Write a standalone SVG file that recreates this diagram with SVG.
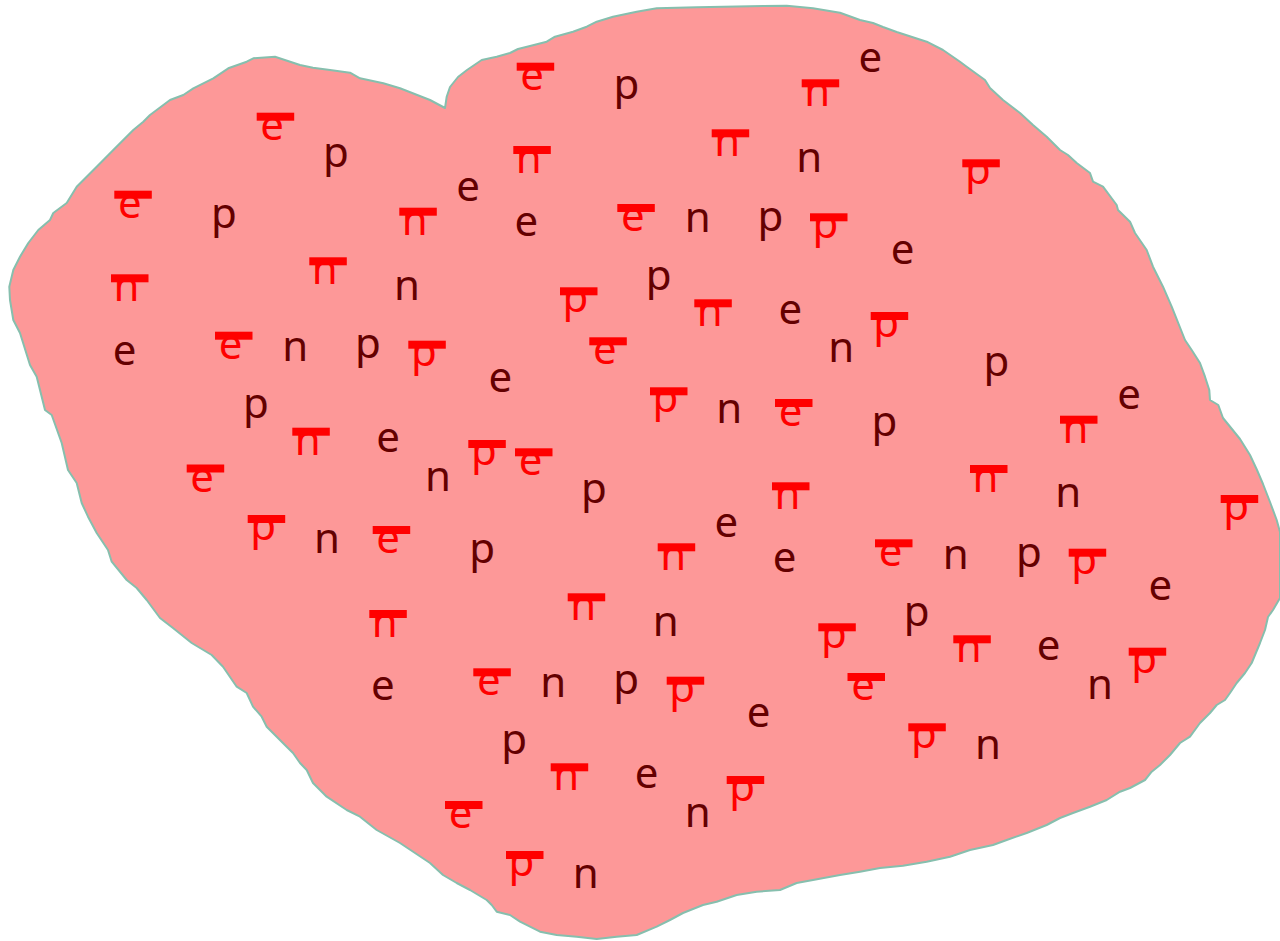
<svg xmlns="http://www.w3.org/2000/svg" width="1280" height="941" viewBox="0 0 1280 941">
<style>
.blob{fill:#fd9898;stroke:#86bfae;stroke-width:2;stroke-linejoin:round}
text{font-family:"Noto Sans","Open Sans","DejaVu Sans",sans-serif;font-size:42px;text-anchor:middle}
.d{fill:#640000}
.r text{fill:#ff0000}
.r rect{fill:#ff0000}
</style>
<rect width="1280" height="941" fill="#ffffff"/>
<path class="blob" d="M445,108 L446.7,96.7 L450,87 L458,77 L467,70 L481.7,60 L496.7,56.7 L510,53 L518,49 L530,46 L546.7,41.7 L555,36.7 L573,31.7 L586.7,26.7 L596.7,21.7 L613,16.7 L636.7,11.7 L656.7,8.3 L696.7,7.3 L763,6 L786.7,5.7 L813,8.3 L840,12.7 L860,20 L873,23 L883,27 L896.7,32 L926.7,41.7 L943,50 L960,61.7 L966.7,66.7 L985,80 L990,88 L1003,100 L1020,113 L1033,125 L1046.7,136.7 L1060,150 L1068,155 L1076.7,163 L1090,173 L1093,181.7 L1103,186.7 L1116.7,205 L1118,210 L1130,221.7 L1135,233 L1146.7,250 L1153,266.7 L1163,286.7 L1171.7,306.7 L1185,340 L1191.7,350 L1200,363 L1205,376.7 L1209.3,390 L1210,400 L1218.3,405 L1223,418 L1240,439 L1250,455 L1257,470 L1263,484 L1270,502 L1276.7,520 L1280,532 L1280,598 L1273,610 L1268,617 L1265,630 L1260,643 L1251.7,663 L1245,673 L1236.7,683 L1230,693 L1225,700 L1216.7,705 L1210,713 L1200,723 L1190,736.7 L1180,743 L1170,755 L1160,765 L1151.7,771.7 L1145,780 L1130,788 L1120,791.7 L1106.7,800 L1090,806.7 L1073,813 L1060,818 L1046.7,825 L1026.7,833 L1006.7,840 L993,845 L970,850 L950,856.7 L926.7,861.7 L903,865.7 L880,868 L860,871.7 L840,875 L813,880 L796.7,883 L780,890 L756.7,891.7 L736.7,895 L716.7,901.7 L703,905 L683,913 L670,920 L656.7,926.7 L636.7,935 L616.7,936.7 L596.7,939 L576.7,936.7 L556.7,935 L540,931.7 L520,921.7 L510,915 L496.7,911.7 L491.7,905 L486.7,900 L470,890 L456.7,883 L443,875 L430,863 L400,843 L376.7,830 L360,816.7 L346.7,810 L326.7,796.7 L313,783 L306.7,770 L300,763 L293,753 L286.7,746.7 L276.7,736.7 L266.7,726.7 L261.7,716.7 L253,706.7 L246.7,693 L236.7,686.7 L223,666.7 L211.7,655 L191.7,643 L173,628 L160,618 L146.7,600 L136.7,588 L126.7,580 L111.7,561.7 L108,550 L96.7,533 L88,516.7 L81.7,503 L76.7,483 L68,470 L61.7,443 L51.7,415 L45,410 L36.7,376.7 L30,365 L20,333 L13.3,320 L10,300 L9.3,286.7 L13.3,270 L20,256.7 L28.3,243 L38.3,230 L50,220 L53.3,213 L66.7,203 L76.7,186.7 L96.7,166.7 L113.3,150 L133.3,130 L143.3,121.7 L150,115 L170,100 L183.3,95 L193.3,88.3 L213.3,78.3 L228.3,68.3 L246.7,61.7 L253.3,58.3 L275,56.7 L300,65 L313,67.7 L330,70 L350,72.7 L360,78.3 L383.3,83.3 L400,88.3 L430,100 Z"/>
<g id="plain-letters" class="d">
<text x="335.8" y="167">p</text>
<text x="224" y="228">p</text>
<text x="407" y="300">n</text>
<text x="124.7" y="364.5">e</text>
<text x="295.3" y="361">n</text>
<text x="368" y="358">p</text>
<text x="256" y="418">p</text>
<text x="388" y="452">e</text>
<text x="626.5" y="99">p</text>
<text x="809.3" y="171.7">n</text>
<text x="468" y="201">e</text>
<text x="526.3" y="236">e</text>
<text x="697.7" y="232.3">n</text>
<text x="770.5" y="230.7">p</text>
<text x="658.7" y="290">p</text>
<text x="790.3" y="323.5">e</text>
<text x="841.3" y="362">n</text>
<text x="500.3" y="392">e</text>
<text x="729.3" y="423">n</text>
<text x="870.3" y="72">e</text>
<text x="902.5" y="263.5">e</text>
<text x="996.5" y="375.7">p</text>
<text x="1129" y="409">e</text>
<text x="884.5" y="435.7">p</text>
<text x="327" y="552.7">n</text>
<text x="382.8" y="699.5">e</text>
<text x="594" y="503.3">p</text>
<text x="726.3" y="537">e</text>
<text x="482.2" y="563.3">p</text>
<text x="784.7" y="572">e</text>
<text x="665.7" y="635.7">n</text>
<text x="553.3" y="696.7">n</text>
<text x="626.2" y="694">p</text>
<text x="758.7" y="727">e</text>
<text x="514.2" y="754.3">p</text>
<text x="646.7" y="788">e</text>
<text x="697.7" y="826.7">n</text>
<text x="585.7" y="887.7">n</text>
<text x="438" y="490.5">n</text>
<text x="1068.3" y="507.3">n</text>
<text x="955.7" y="569">n</text>
<text x="1028.8" y="566.7">p</text>
<text x="1160.3" y="599.5">e</text>
<text x="916.7" y="625.7">p</text>
<text x="1048.7" y="660">e</text>
<text x="1100" y="699">n</text>
<text x="988" y="759.3">n</text>
</g>
<g id="barred-letters" class="r">
<g transform="translate(256.7,112.7)"><rect width="37.5" height="8"/><text x="15.5" y="27">e</text></g>
<g transform="translate(114.3,190.7)"><rect width="37.5" height="8"/><text x="15.5" y="27">e</text></g>
<g transform="translate(399.3,207.7)"><rect width="37.5" height="8"/><text x="15.5" y="27">n</text></g>
<g transform="translate(309.3,257.3)"><rect width="37.5" height="8"/><text x="15.5" y="27">n</text></g>
<g transform="translate(111,274.3)"><rect width="37.5" height="8"/><text x="15.5" y="27">n</text></g>
<g transform="translate(215,331.7)"><rect width="37.5" height="8"/><text x="15.5" y="27">e</text></g>
<g transform="translate(408.3,340.7)"><rect width="37.5" height="8"/><text x="15.5" y="25">p</text></g>
<g transform="translate(292.3,427.7)"><rect width="37.5" height="8"/><text x="15.5" y="27">n</text></g>
<g transform="translate(186.7,464.5)"><rect width="37.5" height="8"/><text x="15.5" y="27">e</text></g>
<g transform="translate(516.7,62.7)"><rect width="37.5" height="8"/><text x="15.5" y="27">e</text></g>
<g transform="translate(801.7,79.3)"><rect width="37.5" height="8"/><text x="15.5" y="27">n</text></g>
<g transform="translate(513.3,146)"><rect width="37.5" height="8"/><text x="15.5" y="27">n</text></g>
<g transform="translate(711.7,129.3)"><rect width="37.5" height="8"/><text x="15.5" y="27">n</text></g>
<g transform="translate(617.3,204)"><rect width="37.5" height="8"/><text x="15.5" y="27">e</text></g>
<g transform="translate(810,213.3)"><rect width="37.5" height="8"/><text x="15.5" y="25">p</text></g>
<g transform="translate(560,287.3)"><rect width="37.5" height="8"/><text x="15.5" y="25">p</text></g>
<g transform="translate(694.3,299.3)"><rect width="37.5" height="8"/><text x="15.5" y="27">n</text></g>
<g transform="translate(589.3,337.3)"><rect width="37.5" height="8"/><text x="15.5" y="27">e</text></g>
<g transform="translate(650,387.3)"><rect width="37.5" height="8"/><text x="15.5" y="25">p</text></g>
<g transform="translate(775,399)"><rect width="37.5" height="8"/><text x="15.5" y="27">e</text></g>
<g transform="translate(468.3,440)"><rect width="37.5" height="8"/><text x="15.5" y="25">p</text></g>
<g transform="translate(515,448.3)"><rect width="37.5" height="8"/><text x="15.5" y="27">e</text></g>
<g transform="translate(962.3,159.3)"><rect width="37.5" height="8"/><text x="15.5" y="25">p</text></g>
<g transform="translate(870.7,312)"><rect width="37.5" height="8"/><text x="15.5" y="25">p</text></g>
<g transform="translate(1060,415.7)"><rect width="37.5" height="8"/><text x="15.5" y="27">n</text></g>
<g transform="translate(970,465)"><rect width="37.5" height="8"/><text x="15.5" y="27">n</text></g>
<g transform="translate(247.7,515)"><rect width="37.5" height="8"/><text x="15.5" y="25">p</text></g>
<g transform="translate(372.7,526)"><rect width="37.5" height="8"/><text x="15.5" y="27">e</text></g>
<g transform="translate(369.3,610)"><rect width="37.5" height="8"/><text x="15.5" y="27">n</text></g>
<g transform="translate(772,482.3)"><rect width="37.5" height="8"/><text x="15.5" y="27">n</text></g>
<g transform="translate(657.7,543.3)"><rect width="37.5" height="8"/><text x="15.5" y="27">n</text></g>
<g transform="translate(567.7,593.3)"><rect width="37.5" height="8"/><text x="15.5" y="27">n</text></g>
<g transform="translate(818.3,623.3)"><rect width="37.5" height="8"/><text x="15.5" y="25">p</text></g>
<g transform="translate(473.3,668.3)"><rect width="37.5" height="8"/><text x="15.5" y="27">e</text></g>
<g transform="translate(666.7,676.7)"><rect width="37.5" height="8"/><text x="15.5" y="25">p</text></g>
<g transform="translate(847.5,673)"><rect width="37.5" height="8"/><text x="15.5" y="27">e</text></g>
<g transform="translate(550.7,763.3)"><rect width="37.5" height="8"/><text x="15.5" y="27">n</text></g>
<g transform="translate(726.7,776)"><rect width="37.5" height="8"/><text x="15.5" y="25">p</text></g>
<g transform="translate(445,801)"><rect width="37.5" height="8"/><text x="15.5" y="27">e</text></g>
<g transform="translate(506,851)"><rect width="37.5" height="8"/><text x="15.5" y="25">p</text></g>
<g transform="translate(1220.7,495)"><rect width="37.5" height="8"/><text x="15.5" y="25">p</text></g>
<g transform="translate(875,539.3)"><rect width="37.5" height="8"/><text x="15.5" y="27">e</text></g>
<g transform="translate(1068.7,548.7)"><rect width="37.5" height="8"/><text x="15.5" y="25">p</text></g>
<g transform="translate(953.3,635.3)"><rect width="37.5" height="8"/><text x="15.5" y="27">n</text></g>
<g transform="translate(1128.7,647.7)"><rect width="37.5" height="8"/><text x="15.5" y="25">p</text></g>
<g transform="translate(908.3,723.3)"><rect width="37.5" height="8"/><text x="15.5" y="25">p</text></g>
</g>
</svg>
